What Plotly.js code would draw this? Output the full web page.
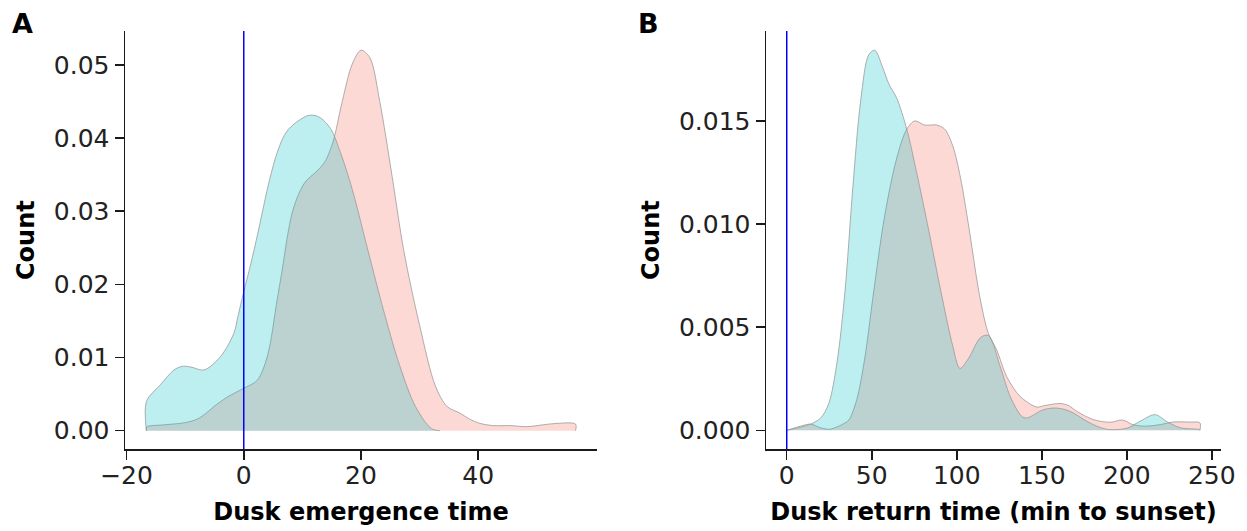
<!DOCTYPE html>
<html>
<head>
<meta charset="utf-8">
<script src="https://cdn.plot.ly/plotly-3.0.1.min.js"></script>
<style>html,body{margin:0;padding:0;background:#fff;}#chart{width:1247px;height:531px;}</style>
</head>
<body>
<div id="chart"></div>
<script>
// Panel A: dusk emergence time (density)
var emergeX_pink = [-16.6,-13.6,-10,-7.9,-6.4,-5.1,-2.8,0,2.3,4,5.7,6.4,8.4,10.4,12.5,13.8,15.2,16.8,18.5,20,21.5,23.2,25.3,27.3,30,32.7,34.7,36.9,38.5,40.3,42.6,45.5,48.3,51,53.4,56.6];
var emergeY_pink = [0.0005,0.0008,0.0011,0.0016,0.0024,0.0033,0.0046,0.0058,0.0069,0.0101,0.0179,0.0212,0.0302,0.0339,0.0355,0.0367,0.0394,0.045,0.0501,0.052,0.051,0.045,0.0348,0.0246,0.0144,0.0061,0.0033,0.0024,0.0016,0.001,0.0007,0.0007,0.00055,0.0008,0.001,0.0009];
var emergeX_teal = [-16.6,-14.2,-11.9,-10.5,-9,-6.8,-4,-1.7,-1,0,1.2,2.4,4.4,5.7,7,8.4,11.1,12.8,14.8,16.5,18.5,21.2,23.9,26.6,29.3,32,33.5];
var emergeY_teal = [0.004,0.0063,0.0083,0.0088,0.0087,0.0083,0.0101,0.0133,0.0156,0.019,0.0228,0.027,0.0343,0.038,0.0405,0.0418,0.0431,0.0429,0.0413,0.038,0.033,0.0246,0.0163,0.0089,0.0033,0.0003,0.0];

// Panel B: dusk return time (min to sunset) (density)
var returnX_pink = [0,8,14,20,25,29.4,33,36.5,41.2,45.9,50.6,57.6,64.7,70.6,75.3,81.1,88.2,92.9,97.6,102.3,107,113.7,118.6,123.5,129.4,137.2,147,151.7,160.8,165.8,170.6,180.3,190.2,197.5,203.4,210.5,219.9,227,236.4,243];
var returnY_pink = [0,0.0002,0.0003,0.00012,0.00005,0.00016,0.0003,0.0005,0.0015,0.0035,0.0064,0.0104,0.0132,0.0146,0.015,0.0148,0.0148,0.0146,0.0138,0.0122,0.0099,0.0064,0.0047,0.0039,0.0026,0.00165,0.00113,0.0012,0.0013,0.0012,0.00092,0.00052,0.00039,0.0005,0.00028,0.0002,0.00028,0.0004,0.0004,0.00036];
var returnX_teal = [0,8,14,20,24.7,29.4,34.1,38.8,43.5,48.2,51.7,56.4,60,64.7,70.6,76.4,83.5,90.5,97.6,101.9,107,114,118.6,125.5,131.4,138.2,141.2,151,158.8,166.6,176.5,182.4,189.3,200,207,216.6,224,231.7,243];
var returnY_teal = [0,0.00015,0.0003,0.0006,0.0013,0.0032,0.0066,0.0117,0.016,0.0182,0.01843,0.0176,0.0168,0.0161,0.0146,0.0125,0.0097,0.0068,0.0041,0.003,0.0035,0.0045,0.0046,0.0031,0.00165,0.00068,0.0006,0.001,0.00108,0.00092,0.00044,0.0002,0.00004,0.0001,0.0004,0.00076,0.0004,0.00012,0.00003];

var xTicksA = [-20,0,20,40];
var yTicksA = [0,0.01,0.02,0.03,0.04,0.05];
var xTicksB = [0,50,100,150,200,250];
var yTicksB = [0,0.005,0.01,0.015];

var PINK = 'rgba(248,118,109,0.28)';
var TEAL = 'rgba(0,191,196,0.26)';
var EDGE = 'rgba(150,150,150,0.75)';

function withEnds(xs, ys) {
  var x = [xs[0]].concat(xs, [xs[xs.length - 1]]);
  var y = [0].concat(ys, [0]);
  return {x: x, y: y};
}
function densTrace(xs, ys, fill, xa, ya) {
  var c = withEnds(xs, ys);
  return {
    type: 'scatter', mode: 'lines', x: c.x, y: c.y, xaxis: xa, yaxis: ya,
    fill: 'tozeroy', fillcolor: fill,
    line: {color: EDGE, width: 1, shape: 'spline', smoothing: 0.9},
    hoverinfo: 'skip', showlegend: false
  };
}

var data = [
  densTrace(emergeX_pink, emergeY_pink, PINK, 'x', 'y'),
  densTrace(emergeX_teal, emergeY_teal, TEAL, 'x', 'y'),
  densTrace(returnX_pink, returnY_pink, PINK, 'x2', 'y2'),
  densTrace(returnX_teal, returnY_teal, TEAL, 'x2', 'y2')
];

var W = 1247, H = 531;
var tickFont = {family: 'DejaVu Sans', size: 25, color: '#222'};
var titleFont = {family: 'DejaVu Sans', size: 24, color: '#000', weight: 'bold'};
var axisCommon = {
  showline: true, linecolor: '#1a1a1a', linewidth: 1.5,
  ticks: 'outside', ticklen: 9, tickwidth: 1.5, tickcolor: '#1a1a1a',
  showgrid: false, zeroline: false, tickfont: tickFont, automargin: false, fixedrange: true
};
var yDomain = [(H - 449.3) / H, (H - 31) / H];

var layout = {
  width: W, height: H,
  margin: {l: 0, r: 0, t: 0, b: 0},
  paper_bgcolor: '#fff', plot_bgcolor: '#fff',
  showlegend: false,
  xaxis: Object.assign({}, axisCommon, {
    domain: [125 / W, 597 / W], range: [-20.26, 60.26], anchor: 'y',
    tickvals: xTicksA, ticklabelstandoff: -6,
    title: {text: 'Dusk emergence time', font: titleFont, standoff: 14}
  }),
  yaxis: Object.assign({}, axisCommon, {
    domain: yDomain, range: [-0.00254, 0.05463], anchor: 'x',
    tickvals: yTicksA, tickformat: '.2f',
    title: {text: 'Count', font: titleFont, standoff: 12}
  }),
  xaxis2: Object.assign({}, axisCommon, {
    domain: [766 / W, 1221 / W], range: [-12.2, 255.4], anchor: 'y2',
    tickvals: xTicksB, ticklabelstandoff: -6,
    title: {text: 'Dusk return time (min to sunset)', font: titleFont, standoff: 14}
  }),
  yaxis2: Object.assign({}, axisCommon, {
    domain: yDomain, range: [-0.00092, 0.01936], anchor: 'x2',
    tickvals: yTicksB, tickformat: '.3f',
    title: {text: 'Count', font: titleFont, standoff: 12}
  }),
  shapes: [
    {type: 'line', xref: 'x', yref: 'y domain', x0: 0, x1: 0, y0: 0, y1: 1,
     line: {color: '#0000ff', width: 1.5}, layer: 'above'},
    {type: 'line', xref: 'x2', yref: 'y2 domain', x0: 0, x1: 0, y0: 0, y1: 1,
     line: {color: '#0000ff', width: 1.5}, layer: 'above'}
  ],
  annotations: [
    {text: '<b>A</b>', xref: 'paper', yref: 'paper', x: 10 / W, y: 1 - 6 / H,
     xanchor: 'left', yanchor: 'top', showarrow: false,
     font: {family: 'DejaVu Sans', size: 27, color: '#000'}},
    {text: '<b>B</b>', xref: 'paper', yref: 'paper', x: 636 / W, y: 1 - 6 / H,
     xanchor: 'left', yanchor: 'top', showarrow: false,
     font: {family: 'DejaVu Sans', size: 27, color: '#000'}}
  ]
};

Plotly.newPlot('chart', data, layout, {displayModeBar: false, staticPlot: true});
</script>
</body>
</html>
